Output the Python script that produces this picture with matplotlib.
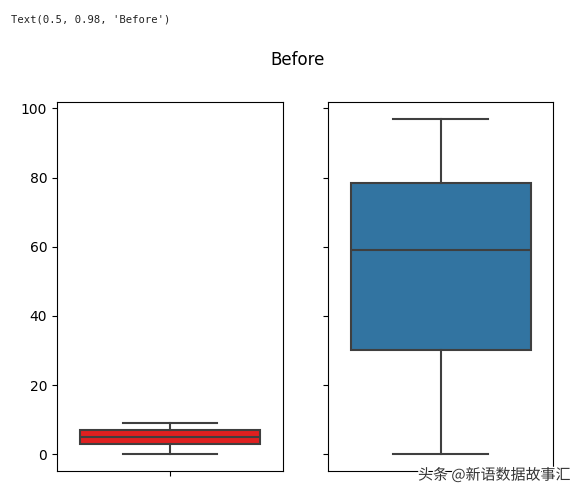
import matplotlib
matplotlib.use("Agg")
import matplotlib.pyplot as plt
import matplotlib.patheffects as pe

# Box statistics
labels = ["left", "right"]
whislo = [0, 0]
q1 = [3, 30]
med = [5, 59]
q3 = [7, 78.5]
whishi = [9, 97]
box_colors = ["#df2020", "#3274a1"]
line_color = "#3f3f3f"

W, H = 582, 495
fig = plt.figure(figsize=(W / 100, H / 100), dpi=100)

def px_axes(x0, y0, x1, y1):
    return fig.add_axes([x0 / W, 1 - y1 / H, (x1 - x0) / W, (y1 - y0) / H])

ax1 = px_axes(57, 102, 283, 471)
ax2 = px_axes(328, 102, 553, 471)
ax2.sharey(ax1)

for i, ax in enumerate([ax1, ax2]):
    stats = [dict(label=labels[i], whislo=whislo[i], q1=q1[i], med=med[i],
                  q3=q3[i], whishi=whishi[i], fliers=[])]
    ax.bxp(stats, positions=[0], widths=0.8, patch_artist=True, showfliers=False,
           boxprops=dict(facecolor=box_colors[i], edgecolor=line_color, linewidth=1.5),
           medianprops=dict(color=line_color, linewidth=1.5),
           whiskerprops=dict(color=line_color, linewidth=1.5),
           capprops=dict(color=line_color, linewidth=1.5),
           capwidths=0.42)
    ax.set_xlim(-0.5, 0.5)
    ax.set_xticks([0])
    ax.set_xticklabels([""])
    ax.tick_params(labelsize=10)

ax1.set_ylim(-4.85, 101.85)
ax1.set_yticks([0, 20, 40, 60, 80, 100])
ax2.tick_params(labelleft=False)

fig.text(298 / W, 1 - 60 / H, "Before", ha="center", va="center", fontsize=12)
fig.text(11 / W, 1 - 20 / H, "Text(0.5, 0.98, 'Before')", ha="left", va="center",
         fontsize=7.6, family="DejaVu Sans Mono", color="#222222")
fig.text(418 / W, 1 - 475 / H, "头条 @新语数据故事汇", ha="left", va="center",
         fontsize=10.8, family=["Noto Sans CJK SC", "DejaVu Sans"], color="#333333",
         path_effects=[pe.withStroke(linewidth=2, foreground="white")])

fig.savefig("out.png", dpi=100)
